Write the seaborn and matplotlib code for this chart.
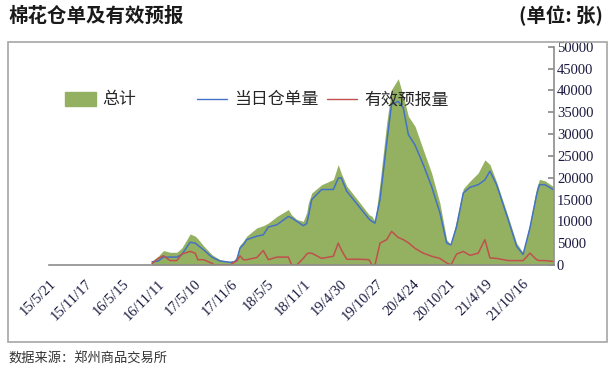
import pandas as pd
import matplotlib
matplotlib.use("Agg")
import matplotlib.pyplot as plt
import seaborn as sns
from matplotlib.patches import Patch, Rectangle
from matplotlib.lines import Line2D

# -----------------------------
# Data
# -----------------------------
dates = [
    "2016-10-10", "2016-11-10", "2016-12-06", "2017-01-08", "2017-02-10", "2017-03-07",
    "2017-04-17", "2017-05-12", "2017-05-25", "2017-06-22", "2017-08-02", "2017-08-15",
    "2017-09-12", "2017-11-01", "2017-11-20", "2017-12-04", "2017-12-20", "2018-01-05",
    "2018-01-22", "2018-03-13", "2018-04-14", "2018-05-09", "2018-06-20", "2018-08-16",
    "2018-09-01", "2018-09-27", "2018-10-29", "2018-11-15", "2018-11-23", "2018-12-10",
    "2019-01-28", "2019-03-27", "2019-04-20", "2019-05-05", "2019-06-01", "2019-08-06",
    "2019-09-20", "2019-10-03", "2019-10-19", "2019-11-13", "2019-12-16", "2020-01-09",
    "2020-02-11", "2020-03-07", "2020-04-01", "2020-05-04", "2020-06-14", "2020-07-25",
    "2020-09-04", "2020-10-08", "2020-10-29", "2020-11-26", "2020-12-29", "2021-01-31",
    "2021-03-13", "2021-04-15", "2021-05-10", "2021-06-12", "2021-08-08", "2021-09-19",
    "2021-10-21", "2021-11-24", "2021-12-27", "2022-01-10", "2022-02-06", "2022-03-19",
]
total = [
    900, 2000, 3300, 2900, 2900, 3900,
    7100, 6600, 6000, 4400, 2400, 2000,
    1200, 800, 1000, 1900, 4600, 5400,
    6600, 8500, 9000, 9600, 11100, 12700,
    11500, 10400, 10000, 12000, 14200, 16500,
    18400, 19600, 23000, 21000, 18100, 14200,
    11500, 11200, 10000, 18900, 32600, 40200,
    42700, 38700, 34100, 31800, 26400, 21100,
    14200, 5800, 4600, 10400, 17500, 19200,
    21100, 24100, 23000, 19000, 11100, 5000,
    2800, 9600, 17700, 19600, 19300, 18000,
]
receipts = [
    700, 900, 1800, 1800, 1800, 2400,
    5200, 5000, 4500, 3500, 1800, 1500,
    900, 600, 700, 1200, 3900, 4600,
    5800, 6600, 6900, 8700, 9200, 11100,
    10800, 10000, 9000, 9500, 11100, 15000,
    17300, 17300, 19900, 20000, 16900, 13100,
    10500, 10000, 9600, 15000, 28000, 36800,
    37500, 36000, 29900, 27500, 23000, 18000,
    12000, 5000, 4600, 8800, 16500, 17800,
    18400, 19500, 21500, 18400, 10400, 4300,
    2400, 8500, 16100, 18400, 18400, 17300,
]
forecast = [
    300, 1500, 2100, 1000, 1000, 2500,
    3100, 2700, 1200, 1200, 400, 0,
    0, 0, 600, 900, 2100, 1200,
    1200, 1700, 3300, 1200, 1800, 1800,
    0, 0, 1500, 2500, 2700, 2700,
    1500, 2000, 5000, 3500, 1300, 1300,
    1200, 0, 0, 5000, 5800, 7700,
    6300, 5800, 5100, 3800, 2700, 2000,
    1500, 450, 0, 2500, 3100, 2200,
    2700, 5800, 1600, 1500, 1000, 1000,
    1000, 2700, 1200, 1000, 1000, 800,
]

tick_labels = [
    "15/5/21", "15/11/17", "16/5/15", "16/11/11", "17/5/10", "17/11/6", "18/5/5",
    "18/11/1", "19/4/30", "19/10/27", "20/4/24", "20/10/21", "21/4/19", "21/10/16",
]

df = pd.DataFrame({
    "date": pd.to_datetime(dates),
    "总计": total,
    "当日仓单量": receipts,
    "有效预报量": forecast,
})
tick_dates = pd.date_range("2015-05-21", periods=len(tick_labels), freq="180D")

# -----------------------------
# Style
# -----------------------------
sns.set_theme(style="white")
plt.rcParams["font.family"] = ["Noto Sans CJK SC", "DejaVu Sans"]

GREEN = "#94B162"
BLUE = "#4472C4"
RED = "#C0504D"
AXIS = "#8C8C8C"

fig = plt.figure(figsize=(6.09, 3.69), dpi=100)
ax = fig.add_axes([0.081, 0.282, 0.829, 0.591])

ax.fill_between(df["date"], df["总计"], 0, color=GREEN, lw=0)
sns.lineplot(data=df, x="date", y="当日仓单量", ax=ax, color=BLUE, lw=1.1)
sns.lineplot(data=df, x="date", y="有效预报量", ax=ax, color=RED, lw=1.1)

ax.set_xlim(pd.Timestamp("2015-05-21"), pd.Timestamp("2022-03-24"))
ax.set_ylim(0, 50000)
ax.set_xlabel("")
ax.set_ylabel("")

# right-hand value axis, ticks pointing inward
ax.yaxis.tick_right()
ax.set_yticks(range(0, 50001, 5000))
ax.tick_params(axis="y", direction="in", length=4, color=AXIS, pad=2,
               labelsize=10.5, labelcolor="#1a1a40")
for lbl in ax.get_yticklabels():
    lbl.set_family("Liberation Serif")

ax.set_xticks(tick_dates)
ax.set_xticklabels(tick_labels, rotation=45, ha="right", rotation_mode="anchor")
ax.tick_params(axis="x", direction="out", length=5, color=AXIS, pad=4,
               labelsize=10.5, labelcolor="#1a1a40")
for lbl in ax.get_xticklabels():
    lbl.set_family("Liberation Serif")

for side in ["left", "top"]:
    ax.spines[side].set_visible(False)
for side in ["right", "bottom"]:
    ax.spines[side].set_color(AXIS)
    ax.spines[side].set_linewidth(1.2)
ax.grid(False)
ax.patch.set_alpha(0)

# legends
leg1 = ax.legend(handles=[Patch(color=GREEN, label="总计")], loc="upper left",
                 bbox_to_anchor=(0.0, 0.87), frameon=False, fontsize=12.2,
                 handlelength=1.85, handleheight=0.9, handletextpad=0.4)
ax.add_artist(leg1)
ax.legend(handles=[Line2D([], [], color=BLUE, lw=1.0, label="当日仓单量"),
                   Line2D([], [], color=RED, lw=1.0, label="有效预报量")],
          loc="upper left", bbox_to_anchor=(0.262, 0.87), ncol=2, frameon=False,
          fontsize=12.2, handlelength=1.75, handletextpad=0.45, columnspacing=0.5)

# frame, title, unit, source
fig.patches.append(Rectangle((8 / 609, 1 - 342 / 369), 599 / 609, 300 / 369,
                             transform=fig.transFigure, fill=False,
                             edgecolor="#A6A6A6", lw=1.2))
fig.text(8 / 609, 1 - 16 / 369, "棉花仓单及有效预报", fontsize=14,
         fontweight="bold", va="center", ha="left", color="#1a1a1a")
fig.text(603 / 609, 1 - 16 / 369, "(单位: 张)", fontsize=14,
         fontweight="bold", va="center", ha="right", color="#1a1a1a")
fig.text(8 / 609, 1 - 358 / 369, "数据来源：郑州商品交易所", fontsize=9.5,
         va="center", ha="left", color="#333333")

fig.savefig("out.png", dpi=100)
